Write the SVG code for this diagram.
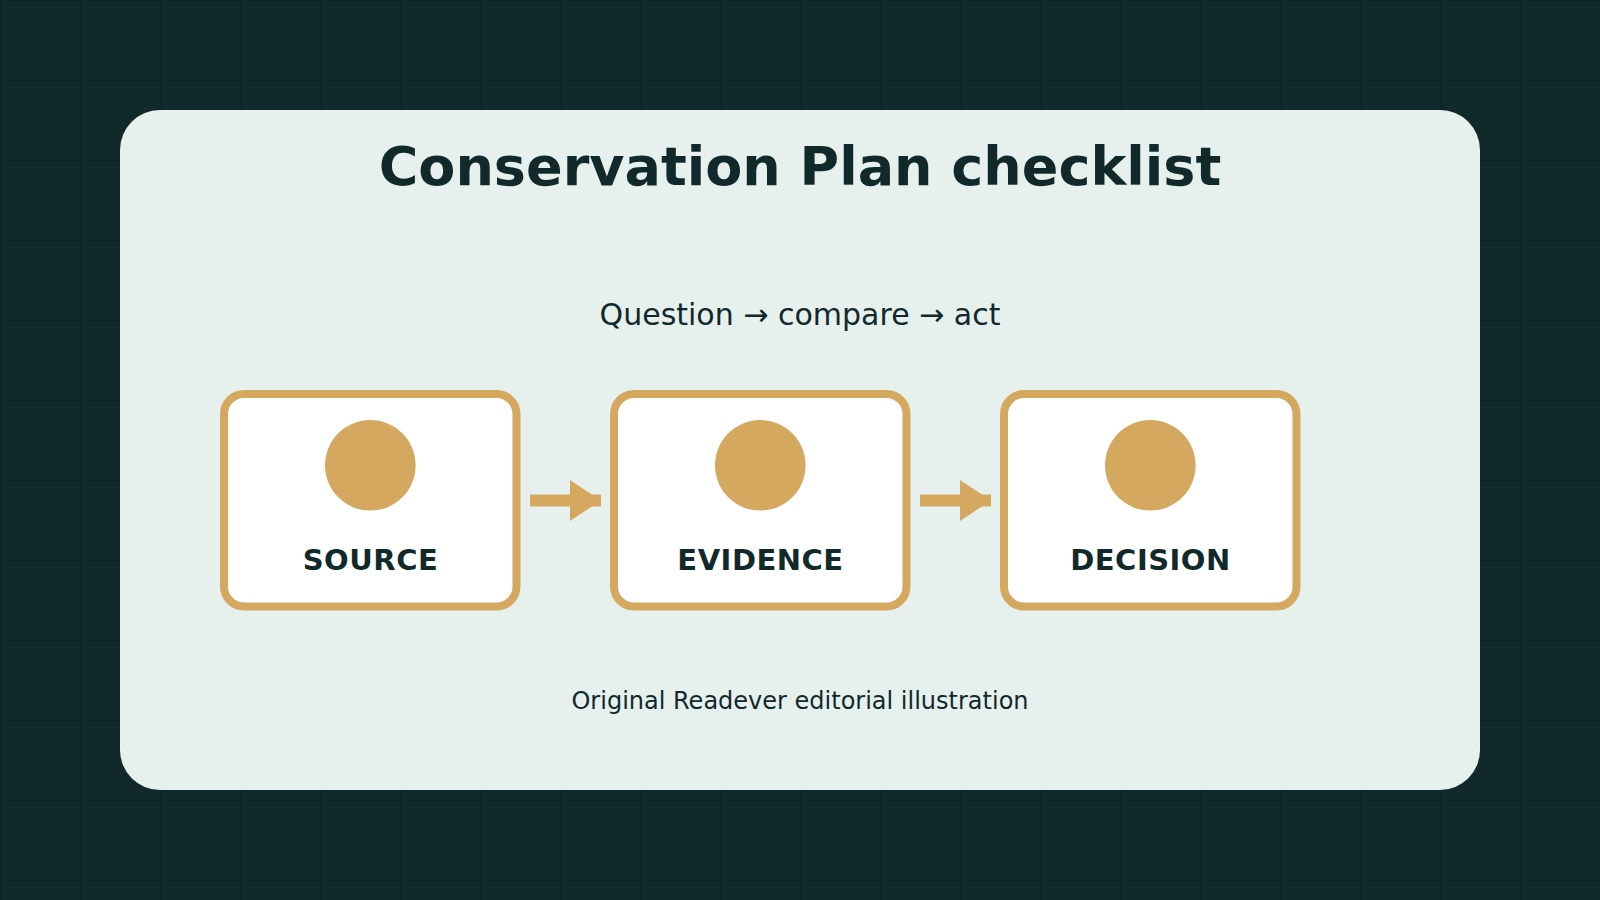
<svg xmlns="http://www.w3.org/2000/svg" width="1600" height="900" viewBox="0 0 1600 900">
  <defs>
    <pattern id="grid" x="0" y="0" width="80" height="80" patternUnits="userSpaceOnUse">
      <path d="M0 0.5 H80 M0.5 0 V80" fill="none" stroke="#0c2224" stroke-width="1"/>
    </pattern>
    <style>
      .node rect { fill: #ffffff; stroke: #d4a85f; stroke-width: 8; }
      .node circle { fill: #d4a85f; }
      .label { font-family: "DejaVu Sans", Verdana, sans-serif; font-weight: bold; font-size: 29px; letter-spacing: 0.5px; fill: #12292b; text-anchor: middle; }
      .conn line { stroke: #d4a85f; stroke-width: 12; }
      .conn polygon { fill: #d4a85f; }
    </style>
  </defs>
  <rect width="1600" height="900" fill="#12292b"/>
  <rect width="1600" height="900" fill="url(#grid)"/>
  <rect x="120" y="110" width="1360" height="680" rx="40" fill="#e6f1ee"/>
  <text x="800" y="185" font-family="DejaVu Sans, Verdana, sans-serif" font-weight="bold" font-size="54" fill="#12292b" text-anchor="middle">Conservation Plan checklist</text>
  <text x="800" y="325" font-family="DejaVu Sans, Verdana, sans-serif" font-size="30" fill="#12292b" text-anchor="middle">Question → compare → act</text>

  <g id="connectors" class="conn">
    <line x1="530" y1="500.5" x2="601" y2="500.5"/>
    <polygon points="570,480 601,500.5 570,521"/>
    <line x1="920" y1="500.5" x2="991" y2="500.5"/>
    <polygon points="960,480 991,500.5 960,521"/>
  </g>

  <g id="node-source" class="node">
    <rect x="224" y="394" width="292.5" height="212.5" rx="20"/>
    <circle cx="370.3" cy="465.3" r="45.3"/>
    <text class="label" x="370.5" y="569.5">SOURCE</text>
  </g>
  <g id="node-evidence" class="node">
    <rect x="614" y="394" width="292.5" height="212.5" rx="20"/>
    <circle cx="760.3" cy="465.3" r="45.3"/>
    <text class="label" x="760.5" y="569.5">EVIDENCE</text>
  </g>
  <g id="node-decision" class="node">
    <rect x="1004" y="394" width="292.5" height="212.5" rx="20"/>
    <circle cx="1150.3" cy="465.3" r="45.3"/>
    <text class="label" x="1150.5" y="569.5">DECISION</text>
  </g>

  <text x="800" y="709" font-family="DejaVu Sans, Verdana, sans-serif" font-size="24" fill="#12292b" text-anchor="middle">Original Readever editorial illustration</text>
</svg>
